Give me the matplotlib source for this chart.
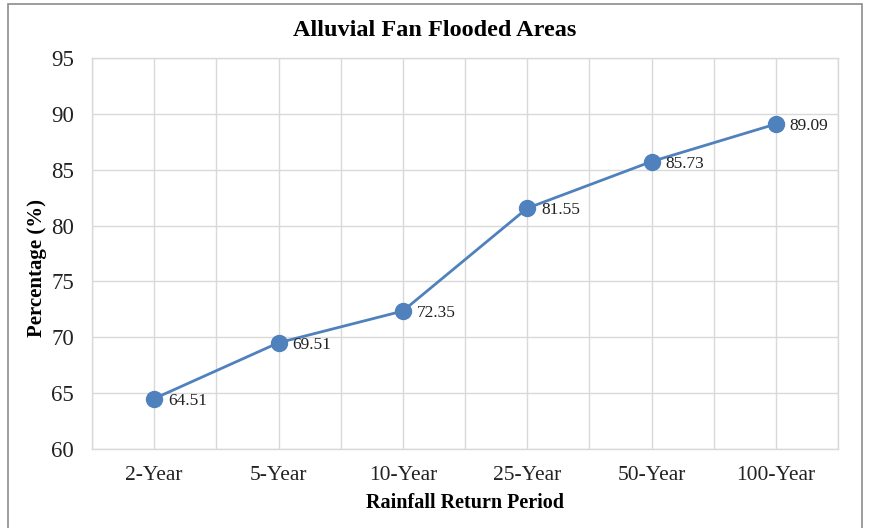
import matplotlib
matplotlib.use('Agg')
import matplotlib.pyplot as plt
from matplotlib.patches import Rectangle

periods = ['2-Year', '5-Year', '10-Year', '25-Year', '50-Year', '100-Year']
flooded_pct = [64.51, 69.51, 72.35, 81.55, 85.73, 89.09]
y_ticks = [60, 65, 70, 75, 80, 85, 90, 95]

plt.rcParams['font.family'] = ['Liberation Serif', 'DejaVu Serif']

BLUE = '#4F81BD'
GRID = '#d9d9d9'

fig = plt.figure(figsize=(8.69, 5.28), dpi=100)
ax = fig.add_axes([92 / 869, 1 - 449 / 528, (838 - 92) / 869, (449 - 58) / 528])

# outer frame of the chart area
fig.patches.append(Rectangle((8 / 869, -0.01), (862 - 8) / 869, 1 - 4 / 528 + 0.01,
                             transform=fig.transFigure, fill=False,
                             edgecolor='#8c8c8c', lw=1.2))

x = list(range(len(periods)))
ax.plot(x, flooded_pct, color=BLUE, lw=2, marker='o', ms=11.5,
        markerfacecolor=BLUE, markeredgecolor=BLUE, zorder=3)
for xi, v in zip(x, flooded_pct):
    ax.annotate(f'{v:.2f}', (xi, v), xytext=(10, -1.5), textcoords='offset points',
                ha='left', va='center', fontsize=12.5, color='#222222')

ax.set_xlim(-0.5, len(periods) - 0.5)
ax.set_ylim(60, 95)
ax.set_yticks(y_ticks)
ax.set_xticks(x)
ax.set_xticklabels(periods)
ax.set_xticks([i - 0.5 for i in range(len(periods) + 1)], minor=True)
ax.tick_params(axis='both', which='both', length=0, colors='#222222')
ax.tick_params(axis='x', labelsize=15.5, pad=12)
ax.tick_params(axis='y', labelsize=16.5, pad=13)
ax.grid(True, which='major', color=GRID, lw=1)
ax.grid(True, which='minor', axis='x', color=GRID, lw=1)
ax.set_axisbelow(True)
for s in ax.spines.values():
    s.set_color(GRID)
    s.set_linewidth(1)

ax.set_xlabel('Rainfall Return Period', fontsize=14.5, fontweight='bold', labelpad=6)
ax.set_ylabel('Percentage (%)', fontsize=15, fontweight='bold')
ax.yaxis.set_label_coords(-0.060, 0.463)
fig.text(0.5, 1 - 30 / 528, 'Alluvial Fan Flooded Areas', ha='center', va='center',
         fontsize=17.5, fontweight='bold')

fig.savefig('out.png', dpi=100)
